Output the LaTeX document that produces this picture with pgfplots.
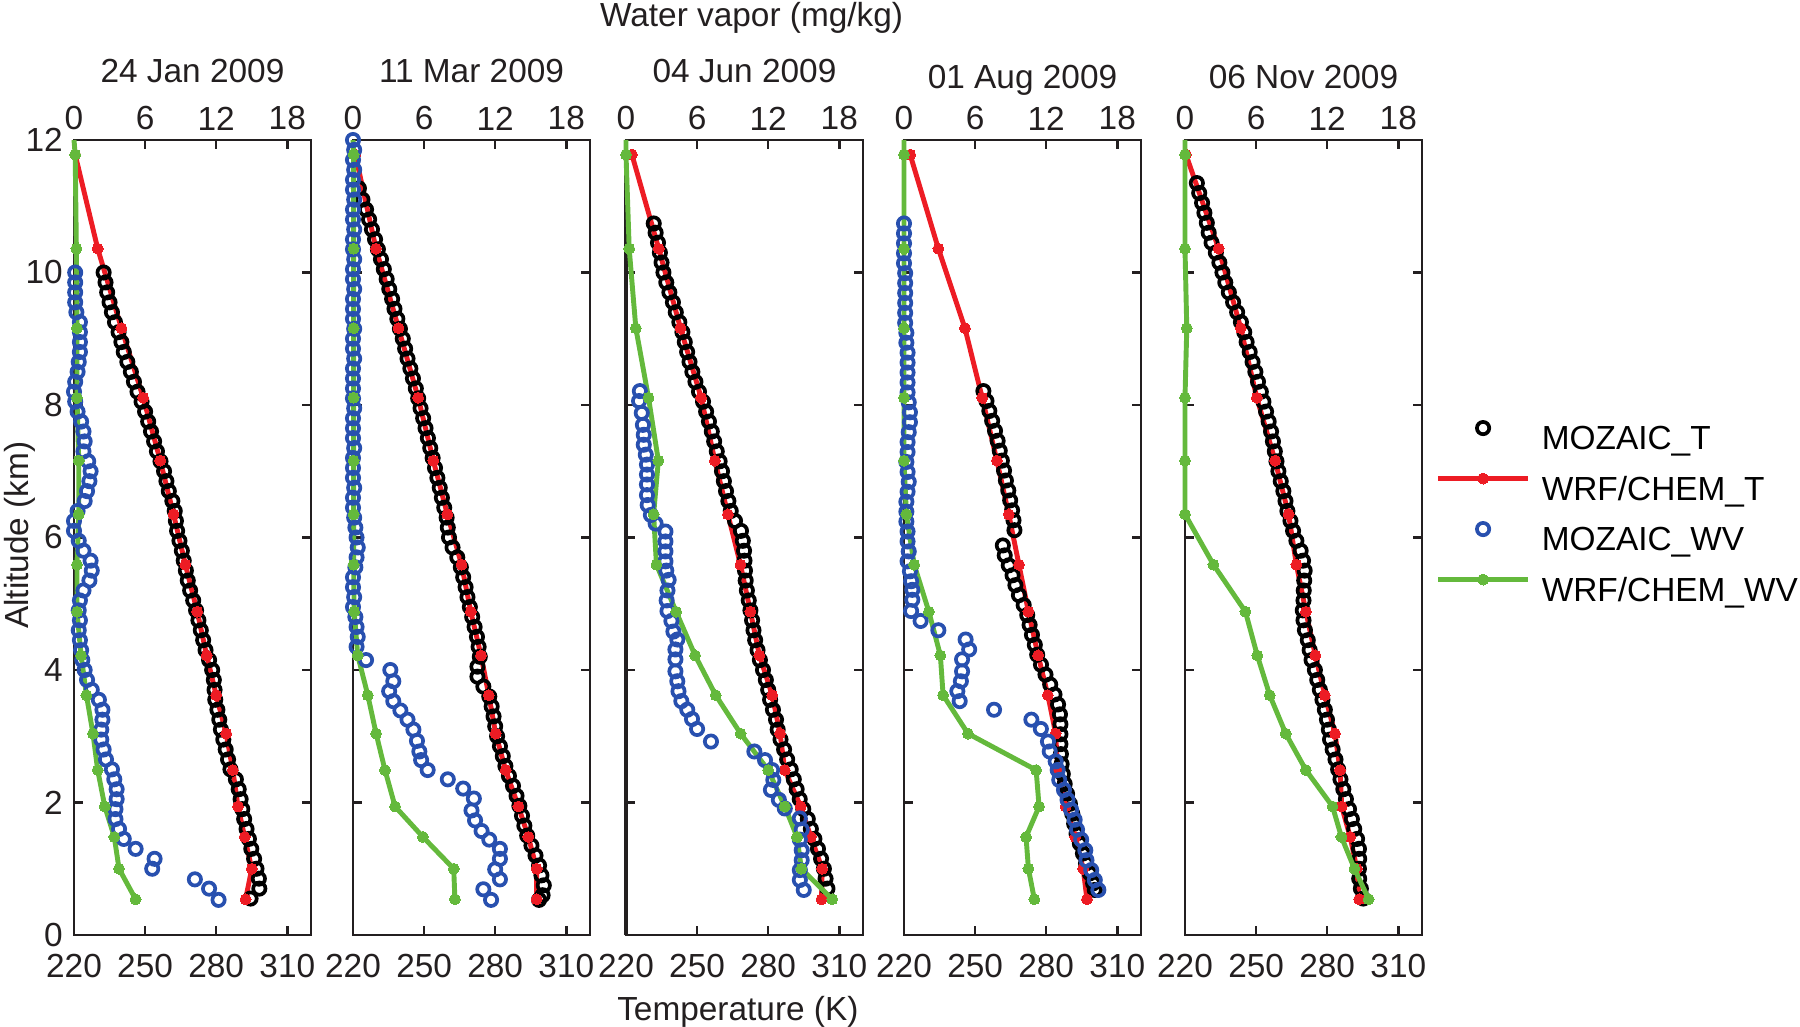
\documentclass[border=0pt]{standalone}
\usepackage{fontspec}
\setmainfont{Liberation Sans}
\usepackage{pgfplots}
\pgfplotsset{compat=1.18}
\definecolor{axc}{RGB}{35,31,32}
\definecolor{wrfred}{RGB}{237,28,36}
\definecolor{mozblue}{RGB}{40,80,175}
\definecolor{wrfgreen}{RGB}{100,185,60}
\newcommand\fs{\fontsize{9.5}{11}\selectfont}
\pgfplotsset{
 panel/.style={scale only axis, width=2.37cm, height=7.95cm, ymin=0, ymax=12, clip=false,
   axis line style={line width=0.7pt, draw=axc},
   every tick/.style={line width=0.7pt, draw=axc},
   major tick length=0.09cm, tick align=inside,
   /pgf/number format/assume math mode=true,
   tick label style={font=\fs, text=axc},
   label style={font=\fs, text=axc}, every axis title shift=0pt},
 Taxis/.style={panel, xmin=220, xmax=320, xtick={220,250,280,310}, xtick pos=bottom,
   xticklabel style={anchor=north, inner sep=0pt, yshift=-0.18cm},
   ytick={0,2,...,12}, ytick pos=both, yticklabel pos=left,
   yticklabel style={anchor=east, inner sep=0pt, xshift=-0.105cm},
   title style={at={(0.5,1.0717)}, anchor=base, font=\fs, text=axc}},
 Waxis/.style={panel, xmin=0, xmax=20, xtick={0,6,12,18}, xtick pos=top, xticklabel pos=top,
   xticklabel style={anchor=south, inner sep=0pt, yshift=0.09cm}, ytick=\empty},
 mozT/.style={black, only marks, mark=o, mark size=1.75pt, mark options={line width=1.05pt}},
 mozW/.style={mozblue, only marks, mark=o, mark size=1.75pt, mark options={line width=1.05pt}},
 wrfT/.style={wrfred, line width=1.4pt, mark=*, mark size=1.55pt, mark options={line width=0pt, fill=wrfred}},
 wrfW/.style={wrfgreen, line width=1.4pt, mark=*, mark size=1.55pt, mark options={line width=0pt, fill=wrfgreen}},
 wrfWtop/.style={wrfW, mark indices={2,3,...,17}},
}
\begin{document}
\begin{tikzpicture}
\path[use as bounding box] (0,0) rectangle (18cm,10.27cm);
% ---------------- Panel 1
\begin{axis}[Taxis, at={(0.74cm,0.92cm)}, anchor=south west, title={24 Jan 2009},
  ylabel={Altitude (km)}, ylabel style={at={(axis description cs:-0.194,0.503)}, anchor=base}]
\addplot[mozT] coordinates {(232.5,10.00)(233.3,9.85)(234.0,9.70)(235.0,9.55)(236.0,9.40)(237.3,9.25)(238.8,9.10)(240.0,8.95)(241.0,8.80)(242.5,8.65)(244.0,8.50)(245.3,8.35)(246.8,8.20)(248.5,8.05)(250.0,7.90)(251.3,7.75)(252.5,7.60)(253.8,7.45)(255.0,7.30)(256.5,7.15)(258.0,7.00)(259.0,6.85)(260.0,6.70)(261.5,6.55)(262.5,6.40)(263.0,6.25)(263.5,6.10)(264.5,5.95)(265.5,5.80)(266.3,5.65)(267.2,5.50)(268.0,5.35)(269.0,5.20)(270.3,5.05)(271.5,4.90)(272.5,4.75)(273.5,4.60)(274.5,4.45)(275.5,4.30)(277.0,4.15)(278.3,4.00)(279.0,3.85)(279.3,3.70)(279.6,3.55)(280.5,3.40)(281.3,3.25)(282.0,3.10)(283.0,2.95)(284.0,2.80)(285.0,2.65)(286.0,2.50)(288.3,2.35)(289.5,2.20)(290.3,2.05)(291.0,1.90)(291.8,1.75)(292.8,1.60)(293.8,1.45)(294.8,1.30)(296.0,1.15)(297.0,1.00)(298.0,0.85)(298.2,0.70)(294.5,0.55)};
\addplot[wrfT] coordinates {(220.5,11.78)(230.0,10.36)(240.0,9.16)(249.2,8.11)(256.4,7.16)(262.0,6.35)(267.0,5.59)(272.0,4.88)(276.0,4.22)(280.0,3.62)(284.2,3.04)(287.0,2.49)(289.2,1.94)(292.0,1.48)(295.0,1.00)(292.4,0.54)};
\end{axis}
\begin{axis}[Waxis, at={(0.74cm,0.92cm)}, anchor=south west]
\addplot[mozW] coordinates {(0.1,10.00)(0.1,9.85)(0.1,9.70)(0.1,9.55)(0.2,9.40)(0.5,9.25)(0.5,9.10)(0.5,8.95)(0.5,8.80)(0.4,8.65)(0.3,8.50)(0.1,8.35)(0.0,8.20)(0.1,8.05)(0.3,7.90)(0.6,7.75)(0.8,7.60)(0.9,7.45)(0.8,7.30)(1.2,7.15)(1.4,7.00)(1.3,6.85)(1.1,6.70)(0.9,6.55)(0.3,6.40)(0.0,6.25)(0.0,6.10)(0.4,5.95)(0.8,5.80)(1.4,5.65)(1.5,5.50)(1.3,5.35)(0.8,5.20)(0.5,5.05)(0.4,4.90)(0.5,4.75)(0.4,4.60)(0.5,4.45)(0.6,4.30)(0.7,4.15)(0.9,4.00)(1.1,3.85)(1.5,3.70)(2.1,3.55)(2.4,3.40)(2.4,3.25)(2.3,3.10)(2.3,2.95)(2.5,2.80)(2.7,2.65)(3.2,2.50)(3.4,2.35)(3.6,2.20)(3.6,2.05)(3.5,1.90)(3.5,1.75)(3.8,1.60)(4.2,1.45)(5.2,1.30)(6.8,1.15)(6.6,1.00)(10.2,0.84)(11.4,0.70)(12.2,0.53)};
\addplot[wrfWtop] coordinates {(0.0,12.0)(0.1,11.78)(0.2,10.36)(0.25,9.16)(0.25,8.11)(0.4,7.16)(0.4,6.35)(0.25,5.59)(0.25,4.88)(0.6,4.22)(1.05,3.62)(1.6,3.04)(2.0,2.49)(2.6,1.94)(3.4,1.48)(3.8,1.00)(5.2,0.54)};
\end{axis}
% ---------------- Panel 2
\begin{axis}[Taxis, at={(3.53cm,0.92cm)}, anchor=south west, title={11 Mar 2009}, yticklabels={}]
\addplot[mozT] coordinates {(222.5,11.27)(224.0,11.10)(225.5,10.95)(226.8,10.80)(228.0,10.65)(229.3,10.50)(230.5,10.35)(231.8,10.20)(233.0,10.05)(234.2,9.90)(235.3,9.75)(236.5,9.60)(237.5,9.45)(238.7,9.30)(239.8,9.15)(241.0,9.00)(242.0,8.85)(243.0,8.70)(244.2,8.55)(245.3,8.40)(246.5,8.25)(247.5,8.10)(248.5,7.95)(249.6,7.80)(250.6,7.65)(251.6,7.50)(252.6,7.35)(253.6,7.20)(254.6,7.05)(255.6,6.90)(256.6,6.75)(257.5,6.60)(258.5,6.45)(259.5,6.30)(260.0,6.15)(260.5,6.00)(262.0,5.85)(264.0,5.70)(265.5,5.55)(266.5,5.40)(267.5,5.25)(268.3,5.10)(269.3,4.95)(270.3,4.80)(271.3,4.65)(272.3,4.50)(273.0,4.35)(273.5,4.20)(272.5,4.05)(272.5,3.90)(275.0,3.75)(277.5,3.60)(278.5,3.45)(279.3,3.30)(280.0,3.15)(280.8,3.00)(282.0,2.85)(283.2,2.70)(284.3,2.55)(285.8,2.40)(287.5,2.25)(289.0,2.10)(290.2,1.95)(291.3,1.80)(292.3,1.65)(293.5,1.50)(295.3,1.35)(297.0,1.20)(298.5,1.05)(299.5,0.90)(300.5,0.75)(300.0,0.60)(298.5,0.53)};
\addplot[wrfT] coordinates {(221.0,11.78)(229.7,10.36)(239.2,9.16)(247.5,8.11)(253.9,7.16)(259.8,6.35)(265.8,5.59)(269.7,4.88)(274.0,4.22)(277.3,3.62)(280.2,3.04)(284.4,2.49)(289.8,1.94)(294.0,1.48)(297.5,1.00)(297.5,0.54)};
\end{axis}
\begin{axis}[Waxis, at={(3.53cm,0.92cm)}, anchor=south west]
\addplot[mozW] coordinates {(0.0,12.00)(0.1,11.85)(0.0,11.70)(0.1,11.55)(0.0,11.40)(0.0,11.25)(0.1,11.10)(0.0,10.95)(0.0,10.80)(0.1,10.65)(0.0,10.50)(0.0,10.35)(0.1,10.20)(0.0,10.05)(0.0,9.90)(0.1,9.75)(0.0,9.60)(0.0,9.45)(0.0,9.30)(0.1,9.15)(0.0,9.00)(0.0,8.85)(0.1,8.70)(0.0,8.55)(0.0,8.40)(0.0,8.25)(0.0,8.10)(0.1,7.95)(0.0,7.80)(0.0,7.65)(0.0,7.50)(0.1,7.35)(0.0,7.20)(0.0,7.05)(0.0,6.90)(0.1,6.75)(0.0,6.60)(0.0,6.45)(0.1,6.30)(0.2,6.15)(0.3,6.00)(0.4,5.85)(0.3,5.70)(0.2,5.55)(0.0,5.40)(0.0,5.25)(0.1,5.10)(0.0,4.95)(0.2,4.80)(0.3,4.65)(0.4,4.50)(0.3,4.35)(1.1,4.15)(3.15,4.00)(3.4,3.83)(3.05,3.68)(3.4,3.53)(4.0,3.39)(4.6,3.25)(5.1,3.10)(5.4,2.93)(5.6,2.77)(5.75,2.64)(6.3,2.49)(8.0,2.35)(9.3,2.21)(10.2,2.06)(10.0,1.88)(10.3,1.73)(10.85,1.57)(11.5,1.44)(12.4,1.30)(12.4,1.15)(12.0,0.99)(12.4,0.84)(11.0,0.69)(11.65,0.53)};
\addplot[wrfWtop] coordinates {(0.0,12.0)(0.05,11.78)(0.05,10.36)(0.05,9.16)(0.05,8.11)(0.05,7.16)(0.05,6.35)(0.05,5.59)(0.1,4.88)(0.4,4.22)(1.25,3.62)(1.95,3.04)(2.7,2.49)(3.55,1.94)(5.9,1.48)(8.5,1.00)(8.6,0.54)};
\end{axis}
% ---------------- Panel 3
\begin{axis}[Taxis, at={(6.26cm,0.92cm)}, anchor=south west, title={04 Jun 2009}, yticklabels={},
  xlabel={Temperature (K)}, xlabel style={at={(axis description cs:0.472,-0.107)}, anchor=base}]
\draw[line width=1.4pt, axc] (rel axis cs:0,0) -- (rel axis cs:0,1);
\addplot[mozT] coordinates {(231.7,10.74)(232.5,10.60)(233.5,10.45)(234.3,10.30)(235.0,10.15)(235.8,10.00)(237.0,9.85)(238.3,9.70)(239.8,9.55)(241.0,9.40)(242.5,9.25)(243.8,9.10)(244.8,8.95)(245.8,8.80)(246.8,8.65)(248.0,8.50)(249.3,8.35)(250.8,8.20)(252.5,8.05)(253.8,7.90)(255.0,7.75)(256.2,7.60)(257.2,7.45)(258.3,7.30)(259.5,7.15)(260.5,7.00)(261.3,6.85)(262.2,6.70)(263.2,6.55)(264.2,6.40)(266.0,6.25)(268.5,6.10)(269.3,5.95)(269.8,5.80)(270.0,5.65)(270.2,5.50)(270.5,5.35)(271.0,5.20)(271.8,5.05)(272.5,4.90)(273.2,4.75)(273.8,4.60)(274.5,4.45)(275.5,4.30)(276.5,4.15)(277.8,4.00)(279.0,3.85)(280.0,3.70)(280.8,3.55)(282.0,3.40)(283.3,3.25)(284.0,3.10)(285.2,2.95)(286.7,2.80)(288.0,2.65)(289.5,2.50)(290.8,2.35)(292.0,2.20)(293.3,2.05)(294.8,1.90)(296.7,1.75)(298.0,1.60)(299.5,1.45)(301.0,1.30)(302.3,1.15)(303.5,1.00)(304.2,0.85)(305.0,0.70)};
\addplot[wrfT] coordinates {(222.5,11.78)(233.8,10.36)(243.0,9.16)(251.7,8.11)(257.5,7.16)(263.0,6.35)(268.3,5.59)(272.5,4.88)(276.3,4.22)(281.7,3.62)(285.0,3.04)(287.0,2.49)(293.7,1.94)(298.0,1.48)(302.8,1.00)(302.5,0.54)};
\end{axis}
\begin{axis}[Waxis, at={(6.26cm,0.92cm)}, anchor=south west,
  xlabel={Water vapor (mg/kg)}, xlabel style={at={(axis description cs:0.530,1.1425)}, anchor=base}]
\addplot[mozW] coordinates {(1.17,8.21)(1.1,8.06)(1.33,7.88)(1.43,7.70)(1.5,7.55)(1.5,7.40)(1.67,7.25)(1.77,7.10)(1.77,6.95)(1.77,6.80)(1.77,6.64)(1.83,6.49)(2.1,6.34)(2.5,6.21)(3.33,6.09)(3.33,5.94)(3.33,5.79)(3.33,5.64)(3.4,5.50)(3.6,5.36)(3.5,5.20)(3.43,5.05)(3.5,4.89)(3.83,4.74)(4.0,4.58)(4.33,4.46)(4.17,4.31)(4.17,4.16)(4.17,3.98)(4.33,3.83)(4.43,3.68)(4.67,3.53)(5.17,3.40)(5.57,3.26)(6.0,3.11)(7.17,2.92)(10.83,2.77)(11.73,2.64)(12.33,2.49)(12.43,2.34)(12.23,2.19)(12.9,2.04)(13.4,1.91)(14.67,1.76)(14.83,1.59)(14.67,1.44)(14.83,1.28)(14.83,1.13)(14.67,0.98)(14.67,0.83)(15.0,0.68)};
\addplot[wrfWtop] coordinates {(0.0,12.0)(0.0,11.78)(0.27,10.36)(0.83,9.16)(1.9,8.11)(2.73,7.16)(2.33,6.35)(2.57,5.59)(4.23,4.88)(5.83,4.22)(7.57,3.62)(9.67,3.04)(12.0,2.49)(13.4,1.94)(14.43,1.48)(14.8,1.00)(17.4,0.54)};
\end{axis}
% ---------------- Panel 4
\begin{axis}[Taxis, at={(9.04cm,0.92cm)}, anchor=south west, title={01 Aug 2009}, yticklabels={},
  title style={at={(0.5,1.0651)}}]
\addplot[mozT] coordinates {(253.5,8.21)(254.8,8.06)(256.0,7.91)(257.2,7.76)(258.4,7.61)(259.5,7.46)(260.4,7.31)(261.3,7.16)(262.2,7.01)(263.0,6.86)(264.0,6.71)(264.8,6.56)(265.6,6.41)(266.2,6.26)(266.6,6.11)(261.7,5.88)(262.5,5.73)(264.2,5.58)(265.8,5.43)(267.0,5.28)(268.5,5.13)(270.5,4.98)(272.0,4.83)(273.0,4.68)(274.0,4.53)(275.2,4.38)(276.2,4.23)(277.8,4.08)(279.7,3.93)(281.7,3.78)(283.5,3.63)(285.0,3.48)(285.8,3.33)(286.0,3.18)(286.0,3.03)(286.0,2.88)(286.2,2.73)(286.5,2.58)(287.0,2.43)(287.8,2.28)(288.8,2.13)(290.0,1.98)(291.0,1.83)(291.8,1.68)(292.8,1.53)(294.2,1.38)(295.5,1.23)(296.8,1.08)(298.4,0.93)(299.8,0.78)(300.5,0.68)};
\addplot[wrfT] coordinates {(222.6,11.78)(234.5,10.36)(245.7,9.16)(253.0,8.11)(259.2,7.16)(264.2,6.35)(268.5,5.59)(272.5,4.88)(276.6,4.22)(280.7,3.62)(284.0,3.04)(284.8,2.49)(288.2,1.94)(292.3,1.48)(295.6,1.00)(297.2,0.54)};
\end{axis}
\begin{axis}[Waxis, at={(9.04cm,0.92cm)}, anchor=south west]
\addplot[mozW] coordinates {(0.0,10.74)(0.0,10.59)(0.0,10.44)(0.0,10.29)(0.0,10.14)(0.1,9.99)(0.1,9.84)(0.1,9.69)(0.1,9.54)(0.1,9.39)(0.1,9.24)(0.2,9.09)(0.2,8.94)(0.3,8.79)(0.3,8.64)(0.3,8.49)(0.3,8.34)(0.3,8.19)(0.4,8.04)(0.5,7.89)(0.5,7.74)(0.4,7.59)(0.3,7.44)(0.3,7.29)(0.2,7.14)(0.3,6.99)(0.4,6.84)(0.3,6.69)(0.2,6.54)(0.2,6.39)(0.2,6.24)(0.3,6.09)(0.3,5.94)(0.4,5.79)(0.3,5.64)(0.5,5.49)(0.6,5.34)(0.7,5.21)(0.7,5.06)(0.6,4.89)(1.4,4.74)(2.9,4.60)(5.2,4.46)(5.5,4.31)(4.9,4.16)(4.9,3.98)(4.8,3.83)(4.5,3.68)(4.7,3.53)(7.6,3.40)(10.75,3.25)(11.55,3.11)(12.15,2.92)(12.3,2.77)(12.8,2.62)(12.97,2.49)(13.1,2.34)(13.5,2.19)(13.8,2.04)(14.1,1.89)(14.4,1.74)(14.6,1.59)(14.95,1.44)(15.3,1.28)(15.4,1.13)(15.8,0.98)(16.1,0.83)(16.4,0.68)};
\addplot[wrfWtop] coordinates {(0.0,12.0)(0.0,11.78)(0.0,10.36)(0.0,9.16)(0.0,8.11)(0.0,7.16)(0.2,6.35)(0.86,5.59)(2.1,4.88)(3.07,4.22)(3.3,3.62)(5.4,3.04)(11.15,2.49)(11.4,1.94)(10.3,1.48)(10.5,1.00)(11.0,0.54)};
\end{axis}
% ---------------- Panel 5
\begin{axis}[Taxis, at={(11.85cm,0.92cm)}, anchor=south west, title={06 Nov 2009}, yticklabels={},
  title style={at={(0.5,1.0651)}},
  legend style={at={(1.01,0.532)}, anchor=west, draw=none, fill=none,
    font=\fs, column sep=0.113cm, row sep=0.12cm,
    cells={anchor=west}, nodes={inner sep=0pt, text height=0.25cm, text depth=0.06cm}},
  legend image code/.code={\path[draw=none, fill=none] (0cm,0cm) rectangle (0.9cm,0.23cm);
    \draw[mark repeat=2, mark phase=2, #1] plot coordinates {(0cm,0.12cm) (0.45cm,0.12cm) (0.9cm,0.12cm)};}]
\addplot[mozT] coordinates {(225.0,11.35)(226.0,11.20)(227.2,11.05)(228.2,10.90)(229.2,10.75)(230.0,10.60)(231.2,10.45)(233.0,10.30)(234.5,10.15)(235.8,10.00)(237.0,9.85)(238.5,9.70)(240.3,9.55)(242.0,9.40)(243.6,9.25)(245.0,9.10)(246.0,8.95)(247.3,8.80)(248.5,8.65)(249.7,8.50)(250.8,8.35)(252.0,8.20)(253.1,8.05)(254.2,7.90)(255.3,7.75)(256.3,7.60)(257.1,7.45)(257.9,7.30)(258.6,7.15)(259.4,7.00)(260.4,6.85)(261.5,6.70)(262.4,6.55)(263.2,6.40)(264.5,6.25)(265.6,6.10)(267.0,5.95)(268.8,5.80)(269.8,5.65)(270.5,5.50)(270.3,5.35)(270.1,5.20)(270.0,5.05)(269.7,4.90)(270.0,4.75)(270.6,4.60)(271.8,4.45)(272.6,4.30)(273.4,4.15)(274.8,4.00)(275.8,3.85)(276.9,3.70)(278.0,3.55)(279.0,3.40)(279.9,3.25)(280.7,3.10)(281.2,2.95)(282.3,2.80)(283.5,2.65)(284.6,2.50)(285.6,2.35)(286.8,2.20)(287.9,2.05)(289.2,1.90)(290.4,1.75)(291.4,1.60)(292.6,1.45)(293.4,1.30)(293.5,1.15)(293.4,1.00)(293.5,0.85)(294.2,0.70)(295.2,0.55)};
\addplot[wrfT] coordinates {(220.4,11.78)(234.2,10.36)(243.5,9.16)(250.3,8.11)(258.0,7.16)(263.7,6.35)(267.0,5.59)(271.0,4.88)(275.0,4.22)(279.0,3.62)(283.3,3.04)(285.4,2.49)(286.1,1.94)(289.7,1.48)(292.5,1.00)(293.5,0.54)};
\addlegendimage{mozW}
\addlegendimage{wrfW}
\legend{MOZAIC\_T, WRF/CHEM\_T, MOZAIC\_WV, WRF/CHEM\_WV}
\end{axis}
\begin{axis}[Waxis, at={(11.85cm,0.92cm)}, anchor=south west]
\addplot[wrfWtop] coordinates {(0.0,12.0)(0.0,11.78)(0.0,10.36)(0.15,9.16)(0.0,8.11)(0.0,7.16)(0.0,6.35)(2.4,5.59)(5.1,4.88)(6.1,4.22)(7.15,3.62)(8.5,3.04)(10.2,2.49)(12.45,1.94)(13.2,1.48)(14.3,1.00)(15.5,0.54)};
\end{axis}
\end{tikzpicture}
\end{document}
